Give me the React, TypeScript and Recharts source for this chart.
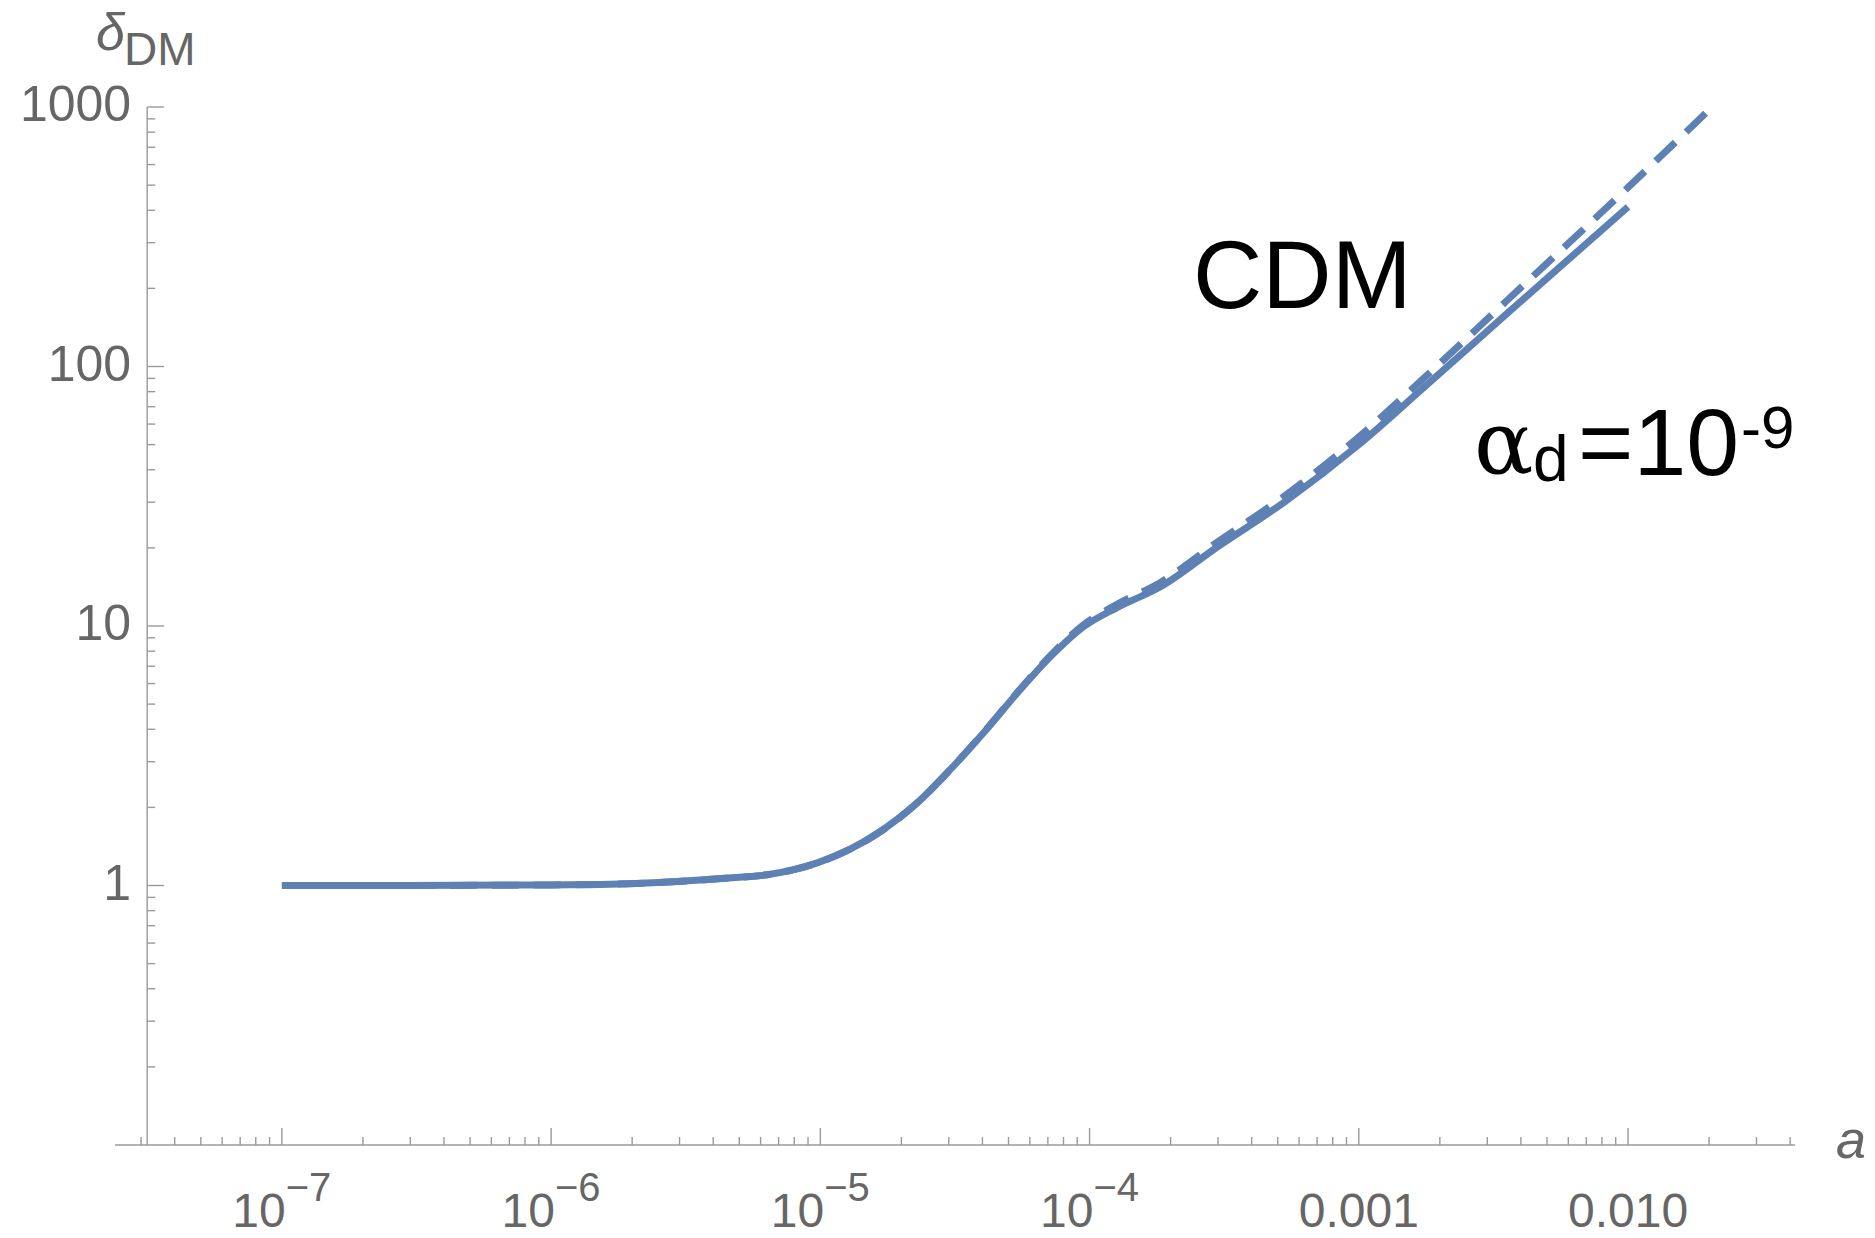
import { LineChart, Line, XAxis, YAxis, ReferenceLine, ReferenceDot } from 'recharts'

// scale factor a (log axis)
const A_VALUES = [
  1e-7, 3e-7, 1e-6, 1.52e-6, 2.5e-6, 3.58e-6, 5e-6, 6.35e-6, 7.9e-6, 9.8e-6, 1.29e-5, 1.71e-5,
  2.3e-5, 3.04e-5, 4.04e-5, 5.4e-5, 7.16e-5, 9.5e-5, 1.26e-4, 1.84e-4, 2.99e-4, 5.26e-4,
  1e-3, 1.7e-3, 3.6e-3, 1e-2, 2e-2,
]
// delta_DM for alpha_d = 1e-9 (solid)
const DELTA_ALPHA9 = [
  1.0, 1.0, 1.005, 1.009, 1.026, 1.049, 1.076, 1.1, 1.148, 1.225, 1.38, 1.64,
  2.09, 2.8, 3.88, 5.53, 7.62, 9.93, 11.75, 14.2, 20.2, 29.9,
  50, 81, 162, 412, null,
]
// delta_DM for CDM (dashed)
const DELTA_CDM = [
  1.0, 1.0, 1.005, 1.009, 1.026, 1.049, 1.076, 1.1, 1.148, 1.225, 1.38, 1.64,
  2.09, 2.8, 3.89, 5.56, 7.7, 10.1, 12.1, 14.75, 21.1, 31.5,
  53.5, 88, 182, 490, 975,
]

const X_DOMAIN = [2.4e-8, 0.0417]
const Y_DOMAIN = [0.1, 1000]
const Y_AXIS_AT = 3.16e-8

const X_MAJOR_TICKS = [1e-7, 1e-6, 1e-5, 1e-4, 1e-3, 1e-2]
const X_MAJOR_LABELS = ['10^-7', '10^-6', '10^-5', '10^-4', '0.001', '0.010']
const X_MINOR_TICKS = [
  3e-8, 4e-8, 5e-8, 6e-8, 7e-8, 8e-8, 9e-8,
  2e-7, 3e-7, 4e-7, 5e-7, 6e-7, 7e-7, 8e-7, 9e-7,
  2e-6, 3e-6, 4e-6, 5e-6, 6e-6, 7e-6, 8e-6, 9e-6,
  2e-5, 3e-5, 4e-5, 5e-5, 6e-5, 7e-5, 8e-5, 9e-5,
  2e-4, 3e-4, 4e-4, 5e-4, 6e-4, 7e-4, 8e-4, 9e-4,
  2e-3, 3e-3, 4e-3, 5e-3, 6e-3, 7e-3, 8e-3, 9e-3,
  2e-2, 3e-2, 4e-2,
]
const Y_MAJOR_TICKS = [1, 10, 100, 1000]
const Y_MAJOR_LABELS = ['1', '10', '100', '1000']
const Y_MINOR_TICKS = [
  0.2, 0.3, 0.4, 0.5, 0.6, 0.7, 0.8, 0.9,
  2, 3, 4, 5, 6, 7, 8, 9,
  20, 30, 40, 50, 60, 70, 80, 90,
  200, 300, 400, 500, 600, 700, 800, 900,
]

const data = A_VALUES.map((a, i) => ({ a, alpha9: DELTA_ALPHA9[i], cdm: DELTA_CDM[i] }))

const BLUE = '#5E81B5'
const AXIS = '#9a9a9a'
const LABEL = '#666666'
const FONT = '"Liberation Sans", Arial, sans-serif'

const near = (a: number, b: number) => Math.abs(a - b) / b < 1e-6

function XTick(props: any) {
  const { x, y, payload } = props
  const idx = X_MAJOR_TICKS.findIndex((t) => near(t, payload.value))
  const major = idx >= 0
  let label = null
  if (major) {
    const [base, exp] = X_MAJOR_LABELS[idx].split('^')
    label = (
      <text x={x} y={y + 82} textAnchor="middle" fontSize={48} fill={LABEL} fontFamily={FONT}>
        {base}
        {exp && (
          <tspan dy={-26} fontSize={40}>
            {exp.replace('-', '\u2212')}
          </tspan>
        )}
      </text>
    )
  }
  return (
    <g>
      <line x1={x} x2={x} y1={y} y2={y - (major ? 17 : 8)} stroke={AXIS} strokeWidth={1.4} />
      {label}
    </g>
  )
}

function YTick(props: any) {
  const { cx, cy, label } = props
  return (
    <g>
      <line x1={cx} x2={cx + (label ? 17 : 8)} y1={cy} y2={cy} stroke={AXIS} strokeWidth={1.4} />
      {label && (
        <text x={cx - 16} y={cy + 14} textAnchor="end" fontSize={50} fill={LABEL} fontFamily={FONT}>
          {label}
        </text>
      )}
    </g>
  )
}

export default function App() {
  return (
    <div style={{ position: 'absolute', left: 0, top: 0, width: 1875, height: 1238, background: '#fff' }}>
      <LineChart width={1875} height={1238} data={data} margin={{ top: 107, right: 80, bottom: 0, left: 115 }}>
        <XAxis
          dataKey="a"
          type="number"
          scale="log"
          domain={X_DOMAIN}
          allowDataOverflow
          ticks={[...X_MAJOR_TICKS, ...X_MINOR_TICKS]}
          interval={0}
          tickSize={0}
          tickMargin={0}
          tickLine={false}
          tick={<XTick />}
          axisLine={{ stroke: AXIS, strokeWidth: 1.4 }}
          height={93}
        />
        <YAxis type="number" scale="log" domain={Y_DOMAIN} allowDataOverflow hide width={0} />
        <ReferenceLine x={Y_AXIS_AT} stroke={AXIS} strokeWidth={1.4} ifOverflow="visible" />
        {Y_MINOR_TICKS.map((v) => (
          <ReferenceDot key={'m' + v} x={Y_AXIS_AT} y={v} ifOverflow="visible" shape={(p: any) => <YTick {...p} />} />
        ))}
        {Y_MAJOR_TICKS.map((v, i) => (
          <ReferenceDot
            key={'M' + v}
            x={Y_AXIS_AT}
            y={v}
            ifOverflow="visible"
            shape={(p: any) => <YTick {...p} label={Y_MAJOR_LABELS[i]} />}
          />
        ))}
        <Line
          dataKey="cdm"
          stroke={BLUE}
          strokeWidth={7}
          strokeDasharray="27 15"
          dot={false}
          activeDot={false}
          type="monotone"
          isAnimationActive={false}
        />
        <Line
          dataKey="alpha9"
          stroke={BLUE}
          strokeWidth={7}
          dot={false}
          activeDot={false}
          type="monotone"
          isAnimationActive={false}
        />
      </LineChart>
      <svg width={1875} height={1238} style={{ position: 'absolute', left: 0, top: 0, pointerEvents: 'none' }}>
        <text x={96} y={50} fontSize={52} fontStyle="italic" fill={LABEL} fontFamily={FONT}>
          δ
        </text>
        <text x={124} y={65} fontSize={46} fill={LABEL} fontFamily={FONT}>
          DM
        </text>
        <text x={1836} y={1158} fontSize={54} fontStyle="italic" fill={LABEL} fontFamily={FONT}>
          a
        </text>
        <text x={1193} y={308} fontSize={96} fill="#000" fontFamily={FONT}>
          CDM
        </text>
        <text fill="#000" fontFamily={FONT}>
          <tspan x={1474} y={473} fontSize={88} fontFamily='"DejaVu Serif", "Liberation Serif", serif'>
            α
          </tspan>
          <tspan x={1533} y={481} fontSize={64}>
            d
          </tspan>
          <tspan x={1578} y={475} fontSize={95}>
            =10
          </tspan>
          <tspan x={1741} y={448} fontSize={60}>
            -9
          </tspan>
        </text>
      </svg>
    </div>
  )
}
